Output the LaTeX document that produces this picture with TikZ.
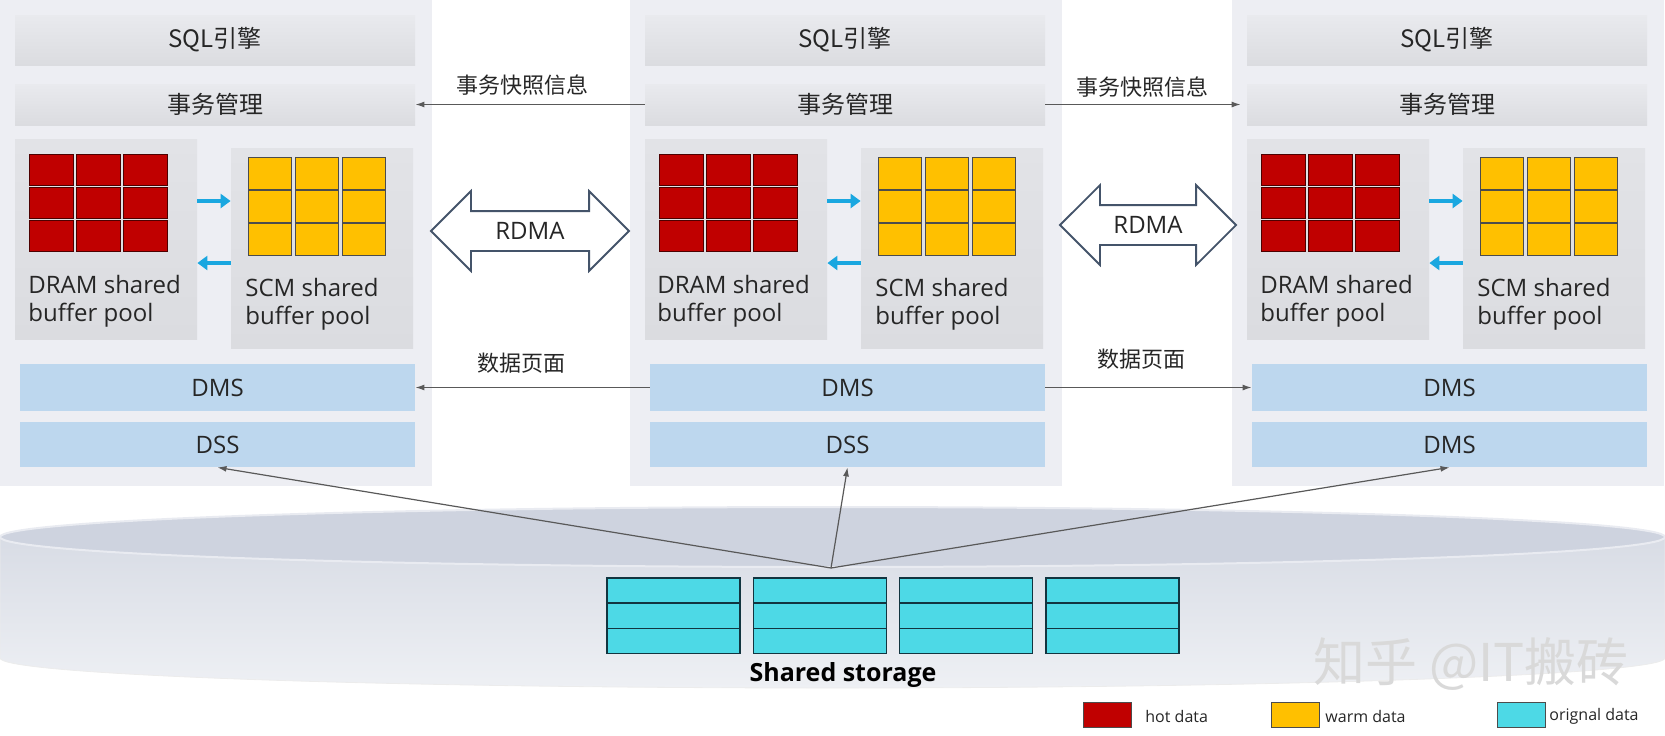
\documentclass[tikz,border=0pt]{standalone}
\usepackage{fontspec}
\setmainfont{Open Sans}
\newfontfamily\cjk{Noto Sans CJK SC}
\usepackage{tikz}
\usetikzlibrary{shapes,arrows,arrows.meta}
\definecolor{panelbg}{HTML}{EDEEF3}
\definecolor{boxtop}{HTML}{E9EAEE}
\definecolor{boxbot}{HTML}{DBDCE0}
\definecolor{dmsblue}{HTML}{BDD7EE}
\definecolor{hotred}{HTML}{C00000}
\definecolor{warmyel}{HTML}{FFC000}
\definecolor{origcyan}{HTML}{4DD9E6}
\definecolor{celledge}{HTML}{123540}
\definecolor{flowblue}{HTML}{1AA7E0}
\definecolor{rdmaline}{HTML}{44546A}
\definecolor{linkgray}{HTML}{595959}
\definecolor{txt}{HTML}{262626}
\definecolor{cyltop}{HTML}{CED3DF}
\definecolor{cylmid}{HTML}{D8DCE5}
\definecolor{cylbot}{HTML}{EEF0F4}

\begin{document}
\begin{tikzpicture}[x=0.5pt, y=-0.5pt, font=\fontsize{12}{14}\selectfont,
  panel/.style={fill=panelbg, minimum width=216pt, minimum height=243pt, inner sep=0},
  graybox/.style={top color=boxtop, bottom color=boxbot, minimum width=200pt, inner sep=0, text=txt},
  poolbox/.style={top color=boxtop!50!boxbot, bottom color=boxbot, minimum width=91pt, minimum height=100pt, inner sep=0},
  bluebox/.style={fill=dmsblue, minimum width=197.5pt, inner sep=0, text=txt},
  pooltext/.style={anchor=west, align=left, inner sep=0, text=txt},
  rdma/.style={double arrow, draw=rdmaline, fill=white, line width=0.9pt, double arrow head extend=10pt, double arrow tip angle=90, inner ysep=0, text height=13.85pt, text depth=5.15pt, text=txt},
  link/.style={draw=linkgray, line width=0.6pt, -{Latex[length=4.5pt,width=3pt]}},
  flow/.style={draw=flowblue, line width=1.8pt, -{Triangle[length=5pt,width=7pt]}},
  hotcell/.style={fill=hotred, draw=black!60!hotred, line width=0.4pt},
  warmcell/.style={fill=warmyel, draw=black!70, line width=0.4pt},
  origcell/.style={fill=origcyan, draw=celledge, line width=0.8pt},
  legend/.style={draw=black!70, minimum width=24pt, minimum height=12.5pt, inner sep=0},
  legtext/.style={anchor=west, font=\fontsize{8}{10}\selectfont, text=txt, inner sep=0}]
\useasboundingbox (0,0) rectangle (1665,735);
%nodes
\node[panel] (panel1) at (216,243) {};
\node[panel] (panel2) at (846,243) {};
\node[panel] (panel3) at (1448,243) {};
% storage
\shadedraw[top color=cylmid, bottom color=cylbot, draw=gray!15] (0,537) -- (0,658) arc[start angle=180, end angle=360, x radius=416.25pt, y radius=15pt] -- (1665,537) -- cycle;
\filldraw[fill=cyltop, draw=white!55!cyltop, line width=1pt] (832.5,537) ellipse[x radius=416.25pt, y radius=15pt];
\foreach \c in {0,...,3} {
  \foreach \r in {0,1,2} {
    \filldraw[origcell] (607+146.3*\c,578+25.2*\r) rectangle ++(133,25.2);
  }
}
\node[font=\bfseries\fontsize{12.5}{14}\selectfont, text=black] (storage) at (843,675) {Shared storage};
\node[text=gray!30, font=\cjk\fontsize{26}{28}\selectfont] (mark) at (1471,664) {知乎 @IT搬砖};

\node[graybox, minimum height=25pt] (sql1) at (215,40) {\cjk SQL引擎};
\node[graybox, minimum height=20.5pt] (tm1) at (215,104.5) {\cjk 事务管理};
\node[poolbox] (dram1) at (106,239) {};
\node[poolbox] (scm1) at (322,248) {};
\node[bluebox, minimum height=23.5pt] (dms1) at (217.5,387.5) {DMS};
\node[bluebox, minimum height=22.5pt] (dss1) at (217.5,444.5) {DSS};
\node[pooltext] (dramtxt1) at (28,301) {DRAM shared\\buffer pool};
\node[pooltext] (scmtxt1) at (245,304.5) {SCM shared\\buffer pool};

\node[graybox, minimum height=25pt] (sql2) at (845,40) {\cjk SQL引擎};
\node[graybox, minimum height=20.5pt] (tm2) at (845,104.5) {\cjk 事务管理};
\node[poolbox] (dram2) at (736,239) {};
\node[poolbox] (scm2) at (952,248) {};
\node[bluebox, minimum height=23.5pt] (dms2) at (847.5,387.5) {DMS};
\node[bluebox, minimum height=22.5pt] (dss2) at (847.5,444.5) {DSS};
\node[pooltext] (dramtxt2) at (657,301) {DRAM shared\\buffer pool};
\node[pooltext] (scmtxt2) at (875,304.5) {SCM shared\\buffer pool};

\node[graybox, minimum height=25pt] (sql3) at (1447,40) {\cjk SQL引擎};
\node[graybox, minimum height=20.5pt] (tm3) at (1447,104.5) {\cjk 事务管理};
\node[poolbox] (dram3) at (1338,239) {};
\node[poolbox] (scm3) at (1554,248) {};
\node[bluebox, minimum height=23.5pt] (dms3) at (1449.5,387.5) {DMS};
\node[bluebox, minimum height=22.5pt] (dss3) at (1449.5,444.5) {DMS};
\node[pooltext] (dramtxt3) at (1260,301) {DRAM shared\\buffer pool};
\node[pooltext] (scmtxt3) at (1477,304.5) {SCM shared\\buffer pool};

\foreach \X in {15,645,1247} {
  \foreach \c in {0,1,2} {
    \foreach \r in {0,1,2} {
      \filldraw[hotcell] (\X+14+47*\c,154+33*\r) rectangle ++(44,31);
      \filldraw[warmcell] (\X+233+47*\c,157+33*\r) rectangle ++(43,32);
    }
  }
}
\foreach \i in {1,2,3} {
  \draw[flow] ([yshift=19pt]dram\i.east) -- ([yshift=19pt]dram\i.east -| scm\i.west);
  \draw[flow] ([yshift=-12pt]dram\i.east -| scm\i.west) -- ([yshift=-12pt]dram\i.east);
}

\node[rdma, minimum height=99pt] (rdma1) at (530,231) {RDMA};
\node[rdma, minimum height=88pt] (rdma2) at (1148,225) {RDMA};

\node[font=\cjk\fontsize{11}{13}\selectfont, text=txt] (snap1) at (522,85) {事务快照信息};
\node[font=\cjk\fontsize{11}{13}\selectfont, text=txt] (snap2) at (1142,87) {事务快照信息};
\node[font=\cjk\fontsize{11}{13}\selectfont, text=txt] (page1) at (521,363) {数据页面};
\node[font=\cjk\fontsize{11}{13}\selectfont, text=txt] (page2) at (1141,359) {数据页面};

\draw [link] (tm2.west) -- (tm1.east);
\draw [link] (tm2.east) -- ([xshift=-3pt]tm3.west);
\draw [link] (dms2.west) -- (dms1.east);
\draw [link] (dms2.east) -- (dms3.west);

\coordinate (hub) at (831,568);
\draw [link] (hub) -- (dss1.south);
\draw [link] (hub) -- (dss2.south);
\draw [link] (hub) -- (dss3.south);

% legend
\node[legend, fill=hotred] (hot) at (1107,714.5) {};
\node[legtext] (hottxt) at (1145,716) {hot data};
\node[legend, fill=warmyel] (warm) at (1295,714.5) {};
\node[legtext] (warmtxt) at (1325,716) {warm data};
\node[legend, fill=origcyan] (orig) at (1521,714.5) {};
\node[legtext] (origtxt) at (1549,716) {orignal data};
\end{tikzpicture}
\end{document}
